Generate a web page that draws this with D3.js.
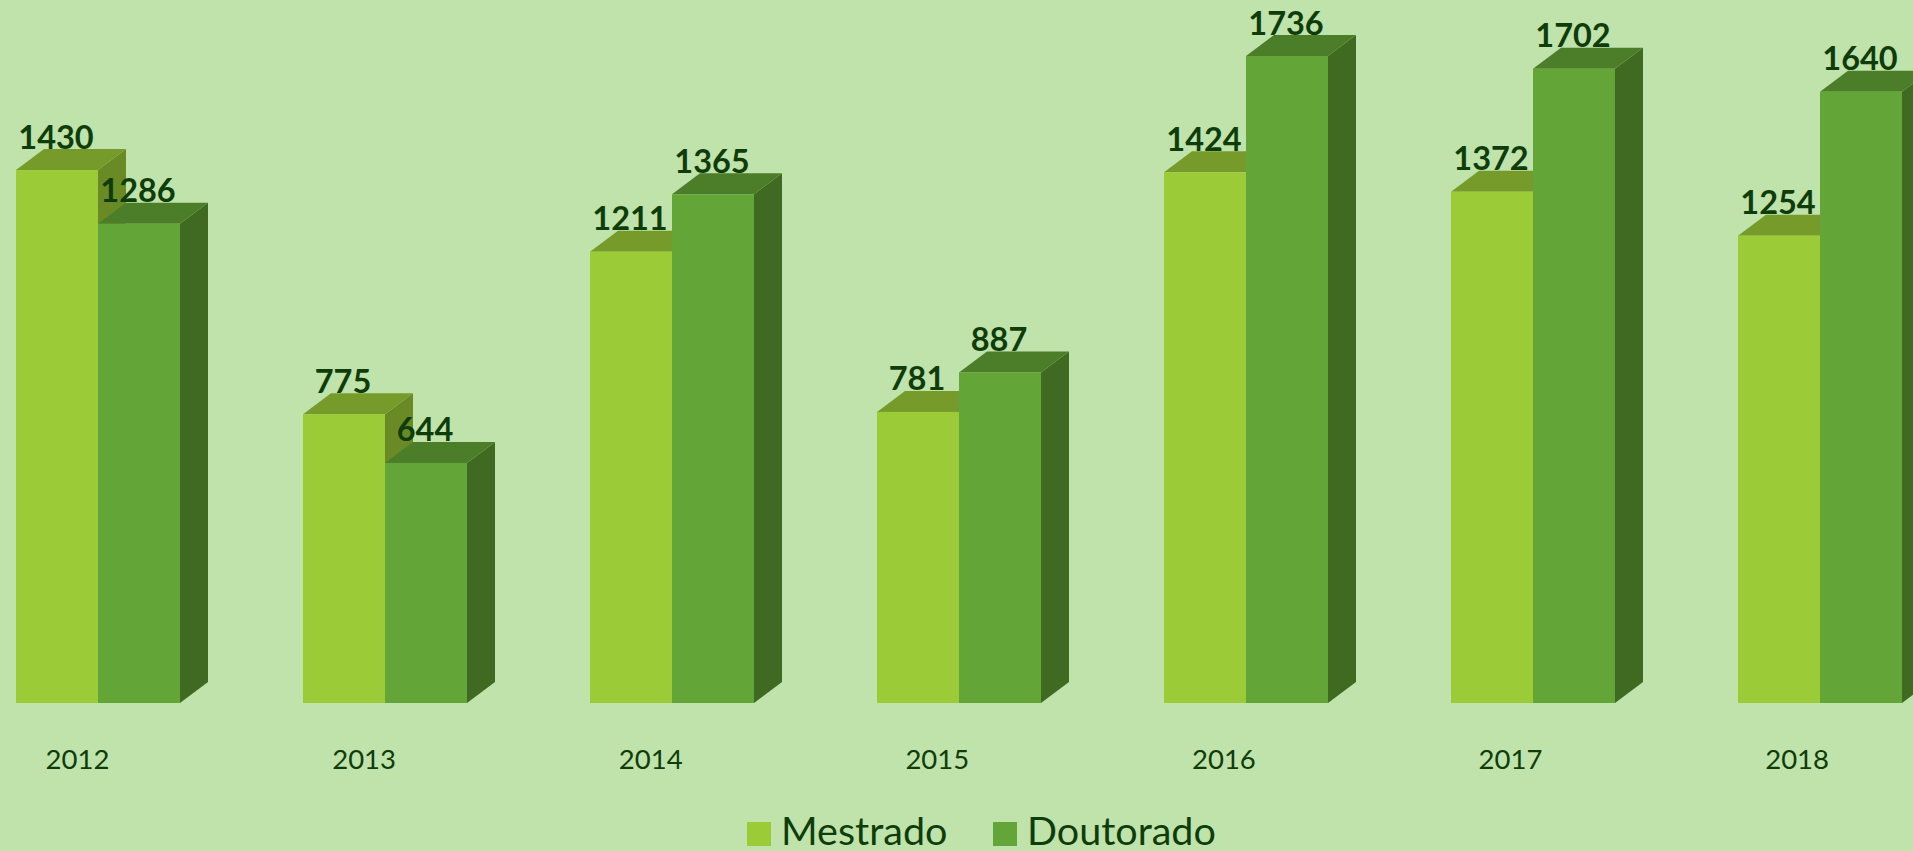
<!DOCTYPE html>
<html><head><meta charset="utf-8">
<script src="https://cdn.jsdelivr.net/npm/d3@7"></script>
<style>html,body{margin:0;padding:0;background:#BFE3AA;overflow:hidden}svg{display:block}</style>
</head><body><svg id="c" width="1913" height="851"></svg>
<script>
const years = ["2012","2013","2014","2015","2016","2017","2018"];
const seriesNames = ["Mestrado","Doutorado"];
const mestrado = [1430,775,1211,781,1424,1372,1254];
const doutorado = [1286,644,1365,887,1736,1702,1640];

const W=1913,H=851, baseY=703, dx=28, dy=21, ink="#0F3D0A";
const pal = {
  Mestrado:{front:"#9BCC38",top:"#779B2B",side:"#6A8A26"},
  Doutorado:{front:"#63A537",top:"#4C7E2A",side:"#406A22"}
};
const svg=d3.select("#c");
svg.append("rect").attr("width",W).attr("height",H).attr("fill","#BFE3AA");

const step=287, groupW=164, x0=16;
const x=d3.scaleBand().domain(years).range([x0,x0+step*(years.length-1)+groupW])
  .paddingInner(1-groupW/step).paddingOuter(0);
const xi=d3.scaleBand().domain(seriesNames).range([0,x.bandwidth()]);
const xLabel=d3.scalePoint().domain(years).range([77,77+286.6*(years.length-1)]);
const y=d3.scaleLinear().domain([0,1736]).range([baseY,baseY-647]);
const vals={Mestrado:mestrado,Doutorado:doutorado};
const font="Lato, 'Open Sans', sans-serif";

const groups=svg.selectAll("g.year").data(years).join("g").attr("class","year");
groups.each(function(yr,i){
  const g=d3.select(this);
  seriesNames.forEach(s=>{
    const v=vals[s][i], L=x(yr)+xi(s), R=L+xi.bandwidth(), T=y(v), c=pal[s];
    g.append("polygon").attr("fill",c.side)
      .attr("points",[[R,T],[R+dx,T-dy],[R+dx,baseY-dy],[R,baseY]].join(" "));
    g.append("polygon").attr("fill",c.top)
      .attr("points",[[L,T],[L+dx,T-dy],[R+dx,T-dy],[R,T]].join(" "));
    g.append("rect").attr("x",L).attr("y",T).attr("width",xi.bandwidth()).attr("height",baseY-T).attr("fill",c.front);
  });
});
years.forEach((yr,i)=>seriesNames.forEach(s=>{
  const v=vals[s][i];
  svg.append("text").attr("x",x(yr)+xi(s)+xi.bandwidth()/2-1).attr("y",y(v)-21.5)
    .attr("text-anchor","middle").attr("font-family",font).attr("font-weight",700)
    .attr("font-size",32.5).attr("fill",ink).text(v);
}));
const axis=svg.append("g").attr("transform",`translate(0,769)`)
  .call(d3.axisBottom(xLabel).tickSize(0).tickPadding(0));
axis.select(".domain").remove();
axis.selectAll("text").attr("y",0).attr("dy",0).attr("font-family",font).attr("font-size",27.5).attr("fill",ink);
const lx={Mestrado:747,Doutorado:993};
seriesNames.forEach(s=>{
  svg.append("rect").attr("x",lx[s]).attr("y",822).attr("width",24).attr("height",24).attr("fill",pal[s].front);
  svg.append("text").attr("x",lx[s]+34).attr("y",845).attr("font-family",font).attr("font-size",39.5).attr("fill",ink).text(s);
});
</script></body></html>
